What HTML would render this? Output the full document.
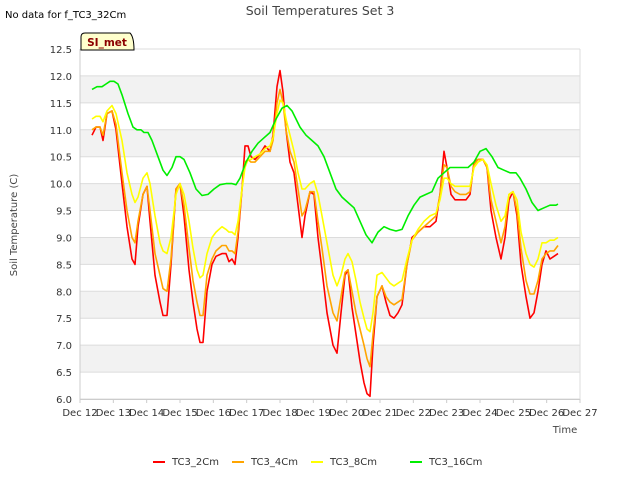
<!DOCTYPE html>
<html><head><meta charset="utf-8"><style>
body{margin:0;background:#fff;font-family:"DejaVu Sans",sans-serif}
svg text{font-family:"DejaVu Sans",sans-serif}
</style></head><body>
<svg id="chart" width="640" height="480" xmlns="http://www.w3.org/2000/svg">
<rect width="640" height="480" fill="#fff"/>
<text x="320" y="15" text-anchor="middle" font-size="12.5" fill="#444">Soil Temperatures Set 3</text>
<text x="5" y="18" font-size="10" fill="#000">No data for f_TC3_32Cm</text>
<g id="grid"></g>
<g id="axes"></g>
<g id="series"></g>
<g>
<path d="M81,50 L81,37 Q81,33 85,33 L130,33 Q134,37 134,50 Z" fill="#ffffcc" stroke="#000" stroke-width="1"/>
<text x="107" y="46" text-anchor="middle" font-size="10.5" font-weight="bold" fill="#8b0000">SI_met</text>
</g>
<text transform="translate(17,225) rotate(-90)" text-anchor="middle" font-size="10" fill="#444">Soil Temperature (C)</text>
<text x="565" y="433" text-anchor="middle" font-size="10" fill="#444">Time</text>
<g id="legend"></g>
</svg>
<script>
const xTickLabels=["Dec 12","Dec 13","Dec 14","Dec 15","Dec 16","Dec 17","Dec 18","Dec 19","Dec 20","Dec 21","Dec 22","Dec 23","Dec 24","Dec 25","Dec 26","Dec 27"];
const yTicks=[6.0,6.5,7.0,7.5,8.0,8.5,9.0,9.5,10.0,10.5,11.0,11.5,12.0,12.5];
const seriesNames=["TC3_2Cm","TC3_4Cm","TC3_8Cm","TC3_16Cm"];
const seriesColors=["#ff0000","#ffa500","#ffff00","#00ee00"];
const tShallow=[0.36,0.48,0.6,0.69,0.81,0.96,1.08,1.26,1.41,1.56,1.65,1.74,1.89,2.01,2.1,2.25,2.4,2.49,2.61,2.73,2.88,3.0,3.12,3.27,3.39,3.51,3.6,3.69,3.81,3.96,4.08,4.26,4.38,4.47,4.56,4.65,4.74,4.86,4.95,5.04,5.13,5.25,5.4,5.55,5.7,5.79,5.91,6.0,6.09,6.18,6.3,6.42,6.54,6.66,6.75,6.9,7.02,7.14,7.26,7.41,7.59,7.71,7.83,7.95,8.04,8.16,8.28,8.4,8.52,8.61,8.7,8.79,8.91,9.06,9.18,9.3,9.42,9.54,9.66,9.81,9.96,10.14,10.32,10.5,10.68,10.8,10.92,11.01,11.13,11.25,11.4,11.58,11.7,11.82,11.94,12.09,12.21,12.33,12.48,12.63,12.75,12.87,12.99,13.11,13.23,13.38,13.5,13.62,13.74,13.86,13.98,14.1,14.22,14.34];
const tc2=[10.9,11.05,11.05,10.8,11.3,11.35,11.0,10.0,9.2,8.6,8.5,9.2,9.8,9.95,9.3,8.3,7.8,7.55,7.55,8.5,9.9,10.0,9.4,8.4,7.8,7.3,7.05,7.05,8.0,8.5,8.65,8.7,8.7,8.55,8.6,8.5,9.0,9.9,10.7,10.7,10.5,10.45,10.55,10.7,10.6,10.9,11.8,12.1,11.7,11.0,10.4,10.2,9.6,9.0,9.4,9.85,9.8,9.0,8.4,7.6,7.0,6.85,7.6,8.3,8.4,7.7,7.2,6.7,6.3,6.1,6.05,7.0,7.9,8.1,7.8,7.55,7.5,7.6,7.75,8.5,9.0,9.1,9.2,9.2,9.3,9.8,10.6,10.3,9.8,9.7,9.7,9.7,9.8,10.4,10.45,10.45,10.3,9.5,9.0,8.6,9.0,9.7,9.85,9.4,8.5,7.9,7.5,7.6,8.0,8.5,8.75,8.6,8.65,8.7];
const tc4=[11.0,11.05,11.05,10.9,11.3,11.35,11.1,10.2,9.5,9.0,8.9,9.3,9.8,9.95,9.5,8.7,8.3,8.05,8.0,8.6,9.9,10.0,9.6,8.8,8.2,7.8,7.55,7.55,8.3,8.6,8.75,8.85,8.85,8.75,8.75,8.7,9.1,9.9,10.4,10.45,10.4,10.4,10.5,10.6,10.6,10.8,11.5,11.75,11.5,11.0,10.6,10.4,9.9,9.4,9.5,9.85,9.85,9.3,8.8,8.1,7.6,7.45,7.9,8.35,8.4,8.0,7.6,7.3,7.0,6.75,6.6,7.2,7.9,8.1,7.9,7.8,7.75,7.8,7.85,8.5,8.95,9.1,9.2,9.3,9.4,9.8,10.35,10.3,9.95,9.85,9.8,9.8,9.85,10.35,10.45,10.45,10.3,9.7,9.3,8.9,9.2,9.8,9.85,9.5,8.8,8.2,7.95,7.95,8.2,8.6,8.7,8.75,8.75,8.85];
const tc8=[11.2,11.25,11.25,11.15,11.35,11.45,11.3,10.8,10.2,9.8,9.65,9.75,10.1,10.2,10.0,9.4,8.9,8.75,8.7,9.0,9.8,10.0,9.8,9.3,8.8,8.4,8.25,8.3,8.7,9.0,9.1,9.2,9.15,9.1,9.1,9.05,9.3,9.9,10.3,10.45,10.45,10.5,10.55,10.65,10.7,10.85,11.3,11.55,11.5,11.2,10.9,10.6,10.2,9.9,9.9,10.0,10.05,9.8,9.4,8.9,8.3,8.1,8.3,8.6,8.7,8.55,8.2,7.8,7.5,7.3,7.25,7.6,8.3,8.35,8.25,8.15,8.1,8.15,8.2,8.6,8.95,9.15,9.3,9.4,9.45,9.7,10.1,10.1,10.0,9.95,9.95,9.95,9.95,10.3,10.4,10.45,10.35,10.0,9.6,9.3,9.4,9.8,9.85,9.7,9.1,8.7,8.5,8.45,8.6,8.9,8.9,8.95,8.95,9.0];
const tDeep=[0.36,0.51,0.66,0.78,0.9,1.02,1.14,1.26,1.44,1.59,1.71,1.83,1.92,2.04,2.16,2.34,2.49,2.61,2.76,2.88,3.0,3.12,3.3,3.48,3.66,3.84,4.02,4.2,4.38,4.56,4.68,4.8,4.98,5.16,5.34,5.52,5.7,5.88,6.06,6.21,6.36,6.6,6.78,6.96,7.14,7.32,7.5,7.68,7.86,8.04,8.22,8.4,8.58,8.76,8.94,9.12,9.3,9.48,9.66,9.84,10.02,10.2,10.38,10.56,10.74,10.92,11.1,11.28,11.46,11.64,11.82,12.0,12.18,12.36,12.54,12.72,12.9,13.08,13.2,13.38,13.56,13.74,13.92,14.1,14.28,14.34];
const tc16=[11.75,11.8,11.8,11.85,11.9,11.9,11.85,11.65,11.3,11.05,11.0,11.0,10.95,10.95,10.8,10.5,10.25,10.15,10.3,10.5,10.5,10.45,10.2,9.9,9.78,9.8,9.9,9.98,10.0,10.0,9.98,10.1,10.4,10.6,10.75,10.85,10.95,11.2,11.4,11.45,11.35,11.05,10.9,10.8,10.7,10.5,10.2,9.9,9.75,9.65,9.55,9.3,9.05,8.9,9.1,9.2,9.15,9.12,9.15,9.4,9.6,9.75,9.8,9.85,10.1,10.2,10.3,10.3,10.3,10.3,10.4,10.6,10.65,10.5,10.3,10.25,10.2,10.2,10.1,9.9,9.65,9.5,9.55,9.6,9.6,9.62];

const X0=80,X1=580,Y0=399,Y1=49,VMIN=6,VMAX=12.5,DAYS=15;
const xs=d=>X0+(X1-X0)*d/DAYS;
const ys=v=>Y0-(Y0-Y1)*(v-VMIN)/(VMAX-VMIN);
const NS="http://www.w3.org/2000/svg";
function mk(tag,attrs,parent){const e=document.createElementNS(NS,tag);for(const k in attrs)e.setAttribute(k,attrs[k]);parent.appendChild(e);return e;}
const grid=document.getElementById('grid'),axes=document.getElementById('axes'),ser=document.getElementById('series'),leg=document.getElementById('legend');
for(let i=0;i<yTicks.length-1;i++){
  if((yTicks.length-2-i)%2===1){
    const r=mk('rect',{x:X0,y:ys(yTicks[i+1]),width:X1-X0,height:ys(yTicks[i])-ys(yTicks[i+1]),fill:'#f2f2f2'},grid);
    
    
  }
}
yTicks.forEach(v=>{
  const l=mk('line',{x1:X0,x2:X1,y1:ys(v),y2:ys(v),stroke:'#dcdcdc','stroke-width':1},grid);
  
  
  const t=mk('text',{x:72,y:ys(v)+4,'text-anchor':'end','font-size':10,fill:'#333'},axes);
  t.textContent=v.toFixed(1);
  
  
});
mk('line',{x1:X0,x2:X0,y1:Y1,y2:Y0,stroke:'#ccc'},axes);
mk('line',{x1:X1,x2:X1,y1:Y1,y2:Y0,stroke:'#ddd'},axes);
mk('line',{x1:X0,x2:X1,y1:Y0+0.5,y2:Y0+0.5,stroke:'#ccc'},axes);
xTickLabels.forEach((s,i)=>{
  mk('line',{x1:xs(i),x2:xs(i),y1:Y0,y2:Y0+4,stroke:'#ccc'},axes);
  const t=mk('text',{x:xs(i),y:416,'text-anchor':'middle','font-size':10,fill:'#333'},axes);
  t.textContent=s;
  
  
});
const data=[[tShallow,tc2],[tShallow,tc4],[tShallow,tc8],[tDeep,tc16]];
data.forEach((d,i)=>{
  const pts=d[0].map((t,j)=>xs(t).toFixed(1)+','+ys(d[1][j]).toFixed(1)).join(' ');
  const p=mk('polyline',{points:pts,fill:'none',stroke:seriesColors[i],'stroke-width':1.6,'stroke-linejoin':'round'},ser);
  
  
});
const legX=[153,232,311,410];
seriesNames.forEach((n,i)=>{
  const g=mk('g',{},leg);
  
  
  mk('line',{x1:legX[i],x2:legX[i]+12,y1:462,y2:462,stroke:seriesColors[i],'stroke-width':2},g);
  const t=mk('text',{x:legX[i]+19,y:465,'font-size':10,fill:'#333'},g);
  t.textContent=n;
});
</script>
</body></html>
